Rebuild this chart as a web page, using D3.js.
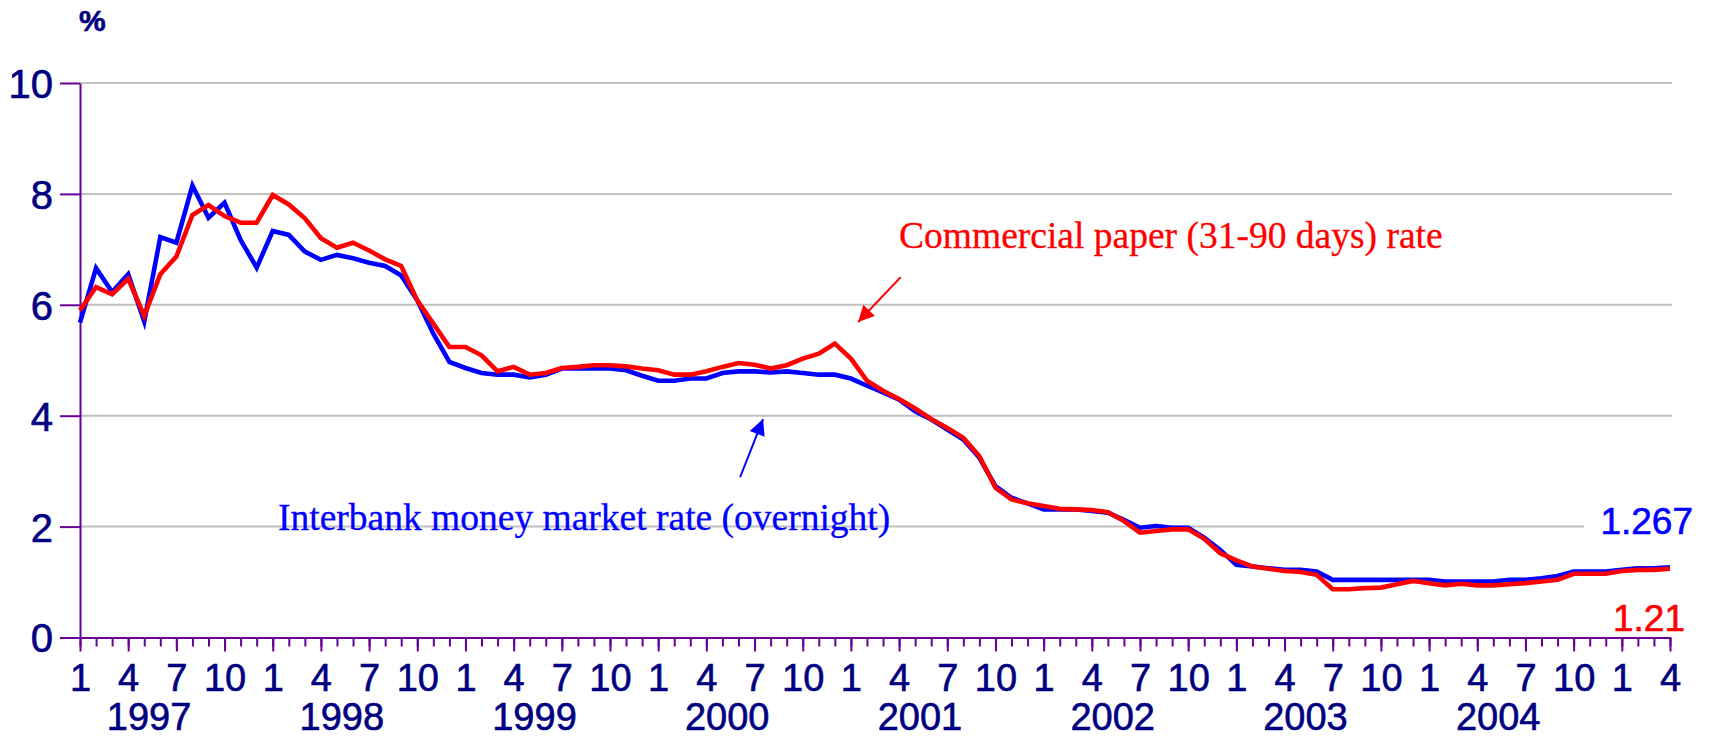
<!DOCTYPE html>
<html lang="en">
  <head>
    <meta charset="UTF-8" />
    <title>Interbank and commercial paper rates</title>
    <script src="https://cdn.jsdelivr.net/npm/d3@7"></script>
    <style>
      body { margin: 0; background: #fff; }
      svg { display: block; }
    </style>
  </head>

  <body>
    <div id="chart"></div>
    <script>
      // monthly, Jan 1997 .. Apr 2005
      const years = [1997, 1998, 1999, 2000, 2001, 2002, 2003, 2004]
      const monthLabels = [1, 4, 7, 10]
      const yTicks = [0, 2, 4, 6, 8, 10]

      const interbank = [
        5.68, 6.66, 6.23, 6.55, 5.70, 7.22, 7.12, 8.15, 7.57, 7.84, 7.17, 6.67,
        7.33, 7.26, 6.96, 6.81, 6.90, 6.84, 6.76, 6.70, 6.53, 6.08, 5.48, 4.97,
        4.86, 4.77, 4.74, 4.74, 4.69, 4.74, 4.85, 4.85, 4.85, 4.85, 4.82, 4.72,
        4.63, 4.63, 4.67, 4.67, 4.77, 4.80, 4.80, 4.78, 4.80, 4.77, 4.74, 4.74,
        4.67, 4.54, 4.42, 4.29, 4.08, 3.93, 3.75, 3.57, 3.24, 2.73, 2.52, 2.42,
        2.31, 2.31, 2.31, 2.28, 2.25, 2.12, 1.98, 2.01, 1.98, 1.98, 1.80, 1.58,
        1.31, 1.28, 1.25, 1.22, 1.22, 1.19, 1.04, 1.04, 1.04, 1.04, 1.04, 1.04,
        1.04, 1.01, 1.01, 1.01, 1.01, 1.04, 1.04, 1.07, 1.11, 1.19, 1.19, 1.19,
        1.22, 1.25, 1.25, 1.267
      ]

      const commercialPaper = [
        5.90, 6.32, 6.19, 6.47, 5.80, 6.55, 6.87, 7.62, 7.80, 7.60, 7.48, 7.48,
        7.98, 7.81, 7.56, 7.20, 7.03, 7.12, 6.98, 6.82, 6.70, 6.08, 5.66, 5.24,
        5.24, 5.09, 4.80, 4.88, 4.74, 4.77, 4.86, 4.88, 4.91, 4.91, 4.89, 4.85,
        4.82, 4.74, 4.74, 4.80, 4.88, 4.95, 4.92, 4.85, 4.91, 5.03, 5.12, 5.30,
        5.03, 4.63, 4.45, 4.30, 4.13, 3.94, 3.78, 3.60, 3.27, 2.70, 2.49, 2.42,
        2.37, 2.32, 2.31, 2.30, 2.26, 2.10, 1.89, 1.92, 1.95, 1.95, 1.78, 1.52,
        1.39, 1.28, 1.24, 1.20, 1.18, 1.13, 0.87, 0.87, 0.89, 0.90, 0.96, 1.02,
        0.98, 0.94, 0.97, 0.94, 0.94, 0.96, 0.98, 1.01, 1.04, 1.15, 1.15, 1.15,
        1.20, 1.22, 1.22, 1.24
      ]

      const lastLabels = { interbank: '1.267', commercialPaper: '1.21' }

      const width = 1711
      const height = 737
      const navy = '#000080'
      const purple = '#660099'
      const sans = '"Liberation Sans", Arial, sans-serif'
      const serif = '"Liberation Serif", "Times New Roman", serif'

      const x = d3.scaleLinear().domain([0, interbank.length - 1]).range([80, 1670])
      const y = d3.scaleLinear().domain([0, 10]).range([637.5, 83])

      const svg = d3
        .select('#chart')
        .append('svg')
        .attr('width', width)
        .attr('height', height)

      // heavier look of the original's text
      const label = (sel, color, size, family = sans) =>
        sel
          .attr('fill', color)
          .attr('stroke', color)
          .attr('stroke-width', 0.6)
          .style('font-family', family)
          .style('font-size', size)

      // grid
      svg
        .append('g')
        .selectAll('line')
        .data(yTicks.filter(d => d > 0))
        .join('line')
        .attr('x1', x(0))
        .attr('x2', x(interbank.length - 1) + 2)
        .attr('y1', d => y(d))
        .attr('y2', d => y(d))
        .attr('stroke', '#c0c0c0')
        .attr('stroke-width', 2)

      // y axis
      const yAxis = svg
        .append('g')
        .attr('transform', `translate(${x(0)},0)`)
        .call(
          d3.axisLeft(y).tickValues(yTicks).tickSize(20).tickSizeOuter(0).tickPadding(7)
        )
      yAxis.selectAll('path, line').attr('stroke', purple).attr('stroke-width', 2)
      yAxis.selectAll('text').call(label, navy, '40px').attr('dy', '0.36em')

      // x axis: every month short tick, quarters long tick + label
      const xMinor = svg
        .append('g')
        .attr('transform', `translate(0,${y(0)})`)
        .call(
          d3.axisBottom(x).tickValues(d3.range(interbank.length)).tickSize(9).tickSizeOuter(0).tickFormat('')
        )
      xMinor.selectAll('path, line').attr('stroke', purple).attr('stroke-width', 2)

      const quarters = d3.range(interbank.length).filter(i => monthLabels.includes((i % 12) + 1))
      const xMajor = svg
        .append('g')
        .attr('transform', `translate(0,${y(0)})`)
        .call(
          d3.axisBottom(x).tickValues(quarters).tickSize(14).tickSizeOuter(0).tickFormat(i => (i % 12) + 1)
        )
      xMajor.select('.domain').remove()
      xMajor.selectAll('line').attr('stroke', purple).attr('stroke-width', 2)
      xMajor.selectAll('text').call(label, navy, '38px').attr('y', 53).attr('dy', 0)

      svg
        .append('g')
        .selectAll('text')
        .data(years)
        .join('text')
        .attr('x', (d, i) => x(i * 12 + 4.3))
        .attr('y', 730)
        .attr('text-anchor', 'middle')
        .call(label, navy, '38px')
        .text(d => d)

      svg
        .append('text')
        .attr('x', x(0) - 1)
        .attr('y', 31)
        .call(label, navy, '30px')
        .style('font-weight', 'bold')
        .text('%')

      // series
      const line = d3
        .line()
        .x((d, i) => x(i))
        .y(d => y(d))

      svg
        .append('path')
        .datum(interbank)
        .attr('d', line)
        .attr('fill', 'none')
        .attr('stroke', '#0000ff')
        .attr('stroke-width', 4.6)

      svg
        .append('path')
        .datum(commercialPaper)
        .attr('d', line)
        .attr('fill', 'none')
        .attr('stroke', '#ff0000')
        .attr('stroke-width', 4.6)

      // annotations
      const defs = svg.append('defs')
      ;[
        ['arrow-red', '#ff0000'],
        ['arrow-blue', '#0000ff']
      ].forEach(([id, color]) => {
        defs
          .append('marker')
          .attr('id', id)
          .attr('viewBox', '0 0 10 10')
          .attr('refX', 10)
          .attr('refY', 5)
          .attr('markerUnits', 'userSpaceOnUse')
          .attr('markerWidth', 24)
          .attr('markerHeight', 16)
          .attr('orient', 'auto')
          .append('path')
          .attr('d', 'M0,0L10,5L0,10z')
          .attr('fill', color)
      })

      svg
        .append('line')
        .attr('x1', x(51.1))
        .attr('y1', y(6.5))
        .attr('x2', x(48.45))
        .attr('y2', y(5.69))
        .attr('stroke', '#ff0000')
        .attr('stroke-width', 2)
        .attr('marker-end', 'url(#arrow-red)')

      svg
        .append('line')
        .attr('x1', x(41.1))
        .attr('y1', y(2.89))
        .attr('x2', x(42.53))
        .attr('y2', y(3.94))
        .attr('stroke', '#0000ff')
        .attr('stroke-width', 2)
        .attr('marker-end', 'url(#arrow-blue)')

      svg
        .append('text')
        .attr('x', x(51))
        .attr('y', y(7.02))
        .call(label, '#ff0000', '37.5px', serif)
        .attr('stroke-width', 0.3)
        .text('Commercial paper (31-90 days) rate')

      svg
        .append('text')
        .attr('x', x(12.33))
        .attr('y', y(1.94))
        .call(label, '#0000ff', '37.5px', serif)
        .attr('stroke-width', 0.3)
        .text('Interbank money market rate (overnight)')

      // end values
      svg
        .append('rect')
        .attr('x', 1584)
        .attr('y', y(2) - 30)
        .attr('width', width - 1584)
        .attr('height', 45)
        .attr('fill', '#fff')

      svg
        .append('text')
        .attr('x', 1693)
        .attr('y', y(1.87))
        .attr('text-anchor', 'end')
        .call(label, '#0000ff', '37px')
        .text(lastLabels.interbank)

      svg
        .append('text')
        .attr('x', 1685)
        .attr('y', y(0.12))
        .attr('text-anchor', 'end')
        .call(label, '#ff0000', '37px')
        .text(lastLabels.commercialPaper)
    </script>
  </body>
</html>
